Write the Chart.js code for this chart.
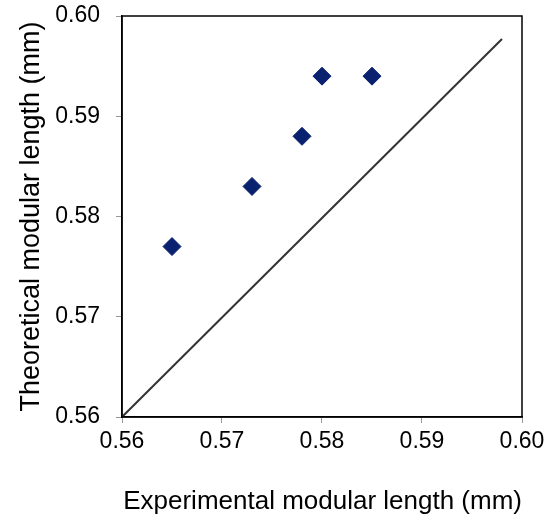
<!DOCTYPE html>
<html>
<head>
<meta charset="utf-8">
<script src="https://cdn.jsdelivr.net/npm/chart.js@4/dist/chart.umd.min.js"></script>
<style>
  html, body { margin: 0; padding: 0; background: #fff; }
  #wrap { width: 544px; height: 521px; position: relative; }
</style>
</head>
<body>
<div id="wrap"><canvas id="chart"></canvas></div>
<script>
// measured points
const experimental = [0.565, 0.573, 0.578, 0.580, 0.585];
const theoretical = [0.577, 0.583, 0.588, 0.594, 0.594];

// reference line (y = x)
const lineX = [0.56, 0.598];
const lineY = [0.56, 0.5977];

const tickValues = [0.56, 0.57, 0.58, 0.59, 0.60];

const font = "'Liberation Sans', Arial, sans-serif";

// draws the top and right edges of the box
const frame = {
  id: 'frame',
  afterDraw(chart) {
    const a = chart.chartArea;
    const c = chart.ctx;
    c.save();
    c.strokeStyle = '#000';
    c.lineWidth = 1.5;
    c.strokeRect(a.left, a.top, a.right - a.left, a.bottom - a.top);
    c.restore();
  }
};

// let tick labels hang over the edges instead of shrinking the plot
function noOverhang(axis) {
  axis.paddingTop = 0;
  axis.paddingBottom = 0;
  axis.paddingLeft = 0;
  axis.paddingRight = 0;
}

const ctx = document.getElementById('chart').getContext('2d');
new Chart(ctx, {
  type: 'scatter',
  data: {
    datasets: [
      {
        label: 'Measured',
        data: experimental.map((x, i) => ({ x: x, y: theoretical[i] })),
        pointStyle: 'rectRot',
        pointRadius: 9,
        pointBackgroundColor: '#0a2170',
        pointBorderColor: '#0a2170',
        pointBorderWidth: 1,
        showLine: false
      },
      {
        label: 'y = x',
        data: lineX.map((x, i) => ({ x: x, y: lineY[i] })),
        showLine: true,
        borderColor: '#333',
        borderWidth: 2,
        pointRadius: 0
      }
    ]
  },
  options: {
    responsive: true,
    maintainAspectRatio: false,
    animation: false,
    layout: { padding: { top: 16, right: 22, left: 0, bottom: 0 } },
    plugins: {
      legend: { display: false },
      tooltip: { enabled: false }
    },
    scales: {
      x: {
        type: 'linear',
        min: 0.56,
        max: 0.60,
        afterBuildTicks: axis => { axis.ticks = tickValues.map(v => ({ value: v })); },
        afterFit: axis => { axis.height = 104; noOverhang(axis); },
        border: { color: '#000', width: 1.5 },
        grid: { drawOnChartArea: false, drawTicks: true, tickLength: 6, tickColor: '#999' },
        ticks: {
          color: '#000',
          padding: 5,
          maxRotation: 0,
          font: { family: font, size: 23 },
          callback: v => v.toFixed(2)
        },
        title: {
          display: true,
          align: 'end',
          text: 'Experimental modular length (mm)',
          color: '#000',
          font: { family: font, size: 26 },
          padding: { top: 14 }
        }
      },
      y: {
        type: 'linear',
        min: 0.56,
        max: 0.60,
        afterBuildTicks: axis => { axis.ticks = tickValues.map(v => ({ value: v })); },
        afterFit: axis => { axis.width = 122; noOverhang(axis); },
        border: { color: '#000', width: 1.5 },
        grid: { drawOnChartArea: false, drawTicks: true, tickLength: 6, tickColor: '#999' },
        ticks: {
          color: '#000',
          padding: 16,
          font: { family: font, size: 23 },
          callback: v => v.toFixed(2)
        },
        title: {
          display: true,
          text: 'Theoretical modular length (mm)',
          color: '#000',
          font: { family: font, size: 27 },
          padding: { top: 15, bottom: 0 }
        }
      }
    }
  },
  plugins: [frame]
});
</script>
</body>
</html>
